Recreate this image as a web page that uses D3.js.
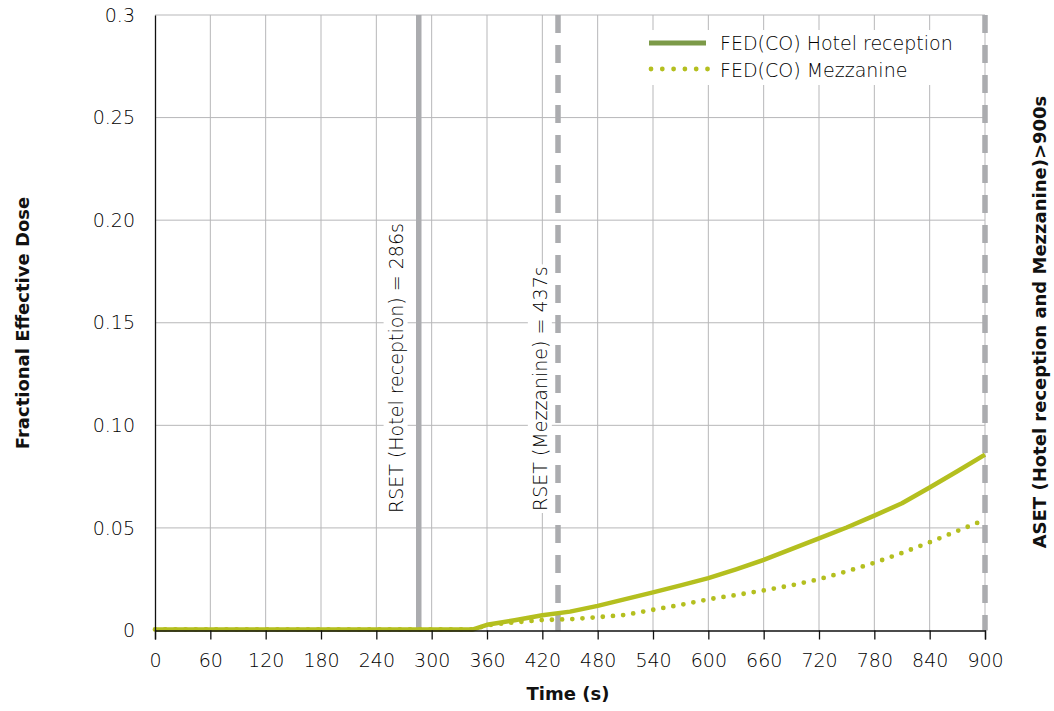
<!DOCTYPE html>
<html>
<head>
<meta charset="utf-8">
<script src="https://cdn.jsdelivr.net/npm/d3@7"></script>
<style>
  html, body { margin: 0; padding: 0; background: #fff; }
  svg { display: block; }
  text { font-family: "DejaVu Sans", "Open Sans", sans-serif; fill: #000; }
  .light { font-weight: 200; }
  .bold { font-family: "DejaVu Sans", sans-serif; font-weight: 700; fill: #111; }
</style>
</head>
<body>
<script>
// Simulation output times (s)
const times = [0, 30, 60, 90, 120, 150, 180, 210, 240, 270, 300, 330, 345,
  360, 390, 420, 450, 480, 510, 540, 570, 600, 630, 660, 690, 720, 750, 780, 810, 840, 870, 900];

// FED(CO) at the hotel reception
const fedHotel = [0.0005, 0.0005, 0.0005, 0.0005, 0.0005, 0.0005, 0.0005, 0.0005, 0.0005, 0.0005, 0.0005, 0.0005, 0.0005,
  0.0028, 0.0050, 0.0074, 0.0092, 0.0120, 0.0153, 0.0186, 0.0220, 0.0255, 0.0298, 0.0344, 0.0397, 0.0449, 0.0502, 0.0560, 0.0620, 0.0697, 0.0776, 0.0857];

// FED(CO) on the mezzanine
const fedMezz = [0.0005, 0.0005, 0.0005, 0.0005, 0.0005, 0.0005, 0.0005, 0.0005, 0.0005, 0.0005, 0.0005, 0.0005, 0.0005,
  0.0026, 0.0040, 0.0051, 0.0055, 0.0065, 0.0076, 0.0101, 0.0125, 0.0152, 0.0173, 0.0195, 0.0220, 0.0250, 0.0288, 0.0330, 0.0378, 0.0430, 0.0485, 0.0540];

const seriesNames = ["FED(CO) Hotel reception", "FED(CO) Mezzanine"];

// Axis ticks
const xTicks = [0, 60, 120, 180, 240, 300, 360, 420, 480, 540, 600, 660, 720, 780, 840, 900];
const yTicks = [0, 0.05, 0.10, 0.15, 0.20, 0.25, 0.3];
const yTickLabels = ["0", "0.05", "0.10", "0.15", "0.20", "0.25", "0.3"];

// Evacuation markers (s)
const rsetHotel = 286;
const rsetMezz = 437;
const asetTime = 900;

const W = 1054, H = 711;
const plot = { left: 155, right: 985, top: 15, bottom: 630.5 };

const svg = d3.select("body").append("svg").attr("width", W).attr("height", H);

const x = d3.scaleLinear().domain([0, 900]).range([plot.left, plot.right]);
const y = d3.scaleLinear().domain([0, 0.3]).range([plot.bottom, plot.top]);

const gridColor = "#b7b7b9";
const markerColor = "#abacaf";
const lineColor = "#b4bf1f";
const legendSolid = "#7c9a48";
const fontSize = 19;

// Gridlines
const grid = svg.append("g");
grid.selectAll("line.v").data(xTicks.slice(1)).join("line")
  .attr("x1", d => x(d)).attr("x2", d => x(d))
  .attr("y1", plot.top).attr("y2", plot.bottom)
  .attr("stroke", gridColor).attr("stroke-width", 1);
grid.selectAll("line.h").data(yTicks.slice(1)).join("line")
  .attr("x1", plot.left).attr("x2", plot.right)
  .attr("y1", d => y(d)).attr("y2", d => y(d))
  .attr("stroke", gridColor).attr("stroke-width", 1);

// Vertical RSET / ASET markers
svg.append("line")
  .attr("x1", x(rsetHotel)).attr("x2", x(rsetHotel))
  .attr("y1", plot.top).attr("y2", plot.bottom)
  .attr("stroke", markerColor).attr("stroke-width", 5.5);
[rsetMezz, asetTime].forEach(t => {
  svg.append("line")
    .attr("x1", x(t)).attr("x2", x(t))
    .attr("y1", plot.top).attr("y2", plot.bottom)
    .attr("stroke", markerColor).attr("stroke-width", 5.5)
    .attr("stroke-dasharray", "18,12");
});

// Marker labels on white boxes
function markerLabel(cx, yStart, label) {
  const g = svg.append("g").attr("transform", `translate(${cx},${yStart}) rotate(-90)`);
  const t = g.append("text").attr("class", "light")
    .attr("x", 0).attr("y", 0).attr("dy", "0.36em")
    .attr("font-size", fontSize).text(label);
  const bb = t.node().getBBox();
  g.insert("rect", "text")
    .attr("x", bb.x - 2).attr("y", bb.y - 1)
    .attr("width", bb.width + 4).attr("height", bb.height + 2)
    .attr("fill", "#fff");
}
markerLabel(x(rsetHotel) - 23, 513, `RSET (Hotel reception) = ${rsetHotel}s`);
markerLabel(x(rsetMezz) - 18, 511, `RSET (Mezzanine) = ${rsetMezz}s`);

// Data lines
const rows = times.map((t, i) => ({ t, hotel: fedHotel[i], mezz: fedMezz[i] }));
const lineHotel = d3.line().x(d => x(d.t)).y(d => y(d.hotel));
const lineMezz = d3.line().x(d => x(d.t)).y(d => y(d.mezz));

svg.append("path").datum(rows).attr("d", lineHotel)
  .attr("fill", "none").attr("stroke", lineColor).attr("stroke-width", 4.5)
  .attr("stroke-linejoin", "round");
svg.append("path").datum(rows).attr("d", lineMezz)
  .attr("fill", "none").attr("stroke", lineColor).attr("stroke-width", 4.8)
  .attr("stroke-linecap", "round").attr("stroke-dasharray", "0,10.2");

// Axes
const xAxis = d3.axisBottom(x).tickValues(xTicks).tickSize(9).tickPadding(14).tickFormat(d3.format("d"));
const gx = svg.append("g").attr("transform", `translate(0,${plot.bottom})`).call(xAxis);
gx.select(".domain").attr("stroke", "#111").attr("stroke-width", 1.3);
gx.selectAll(".tick line").attr("stroke", "#111").attr("stroke-width", 1.3);
gx.selectAll(".tick text").attr("class", "light").attr("font-size", fontSize).attr("fill", "#000")
  .attr("font-family", null);

const yAxis = d3.axisLeft(y).tickValues(yTicks).tickSize(0).tickPadding(20)
  .tickFormat((d, i) => yTickLabels[i]);
const gy = svg.append("g").attr("transform", `translate(${plot.left},0)`).call(yAxis);
gy.select(".domain").attr("stroke", "#111").attr("stroke-width", 1.3);
gy.selectAll(".tick text").attr("class", "light").attr("font-size", fontSize).attr("fill", "#000")
  .attr("font-family", null);

// Axis titles
svg.append("text").attr("class", "bold")
  .attr("x", 568).attr("y", 700).attr("text-anchor", "middle")
  .attr("font-size", 18).text("Time (s)");
svg.append("text").attr("class", "bold")
  .attr("transform", "translate(29,323) rotate(-90)")
  .attr("text-anchor", "middle").attr("font-size", 18).text("Fractional Effective Dose");
svg.append("text").attr("class", "bold")
  .attr("transform", "translate(1046,322) rotate(-90)")
  .attr("text-anchor", "middle").attr("font-size", 18)
  .text("ASET (Hotel reception and Mezzanine)>900s");

// Legend
const legend = svg.append("g");
legend.append("rect").attr("x", 640).attr("y", 30).attr("width", 325).attr("height", 55).attr("fill", "#fff");
legend.append("line").attr("x1", 649).attr("x2", 706).attr("y1", 43).attr("y2", 43)
  .attr("stroke", legendSolid).attr("stroke-width", 5);
legend.append("line").attr("x1", 651).attr("x2", 708).attr("y1", 69).attr("y2", 69)
  .attr("stroke", lineColor).attr("stroke-width", 4.8)
  .attr("stroke-linecap", "round").attr("stroke-dasharray", "0,11.3");
legend.append("text").attr("class", "light").attr("x", 720).attr("y", 50)
  .attr("font-size", fontSize).text(seriesNames[0]);
legend.append("text").attr("class", "light").attr("x", 720).attr("y", 76.5)
  .attr("font-size", fontSize).text(seriesNames[1]);
</script>
</body>
</html>
